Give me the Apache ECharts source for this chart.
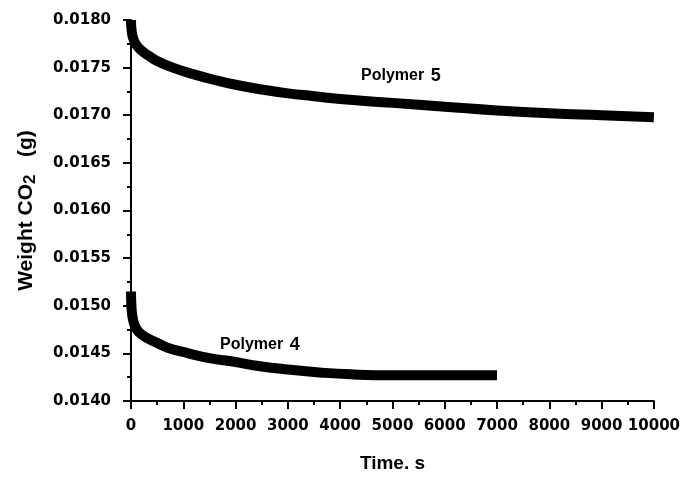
<!DOCTYPE html>
<html>
<head>
<meta charset="utf-8">
<script src="https://cdn.jsdelivr.net/npm/echarts@6/dist/echarts.min.js"></script>
<style>
html,body{margin:0;padding:0;background:#fff;}
#chart{width:683px;height:478px;}
</style>
</head>
<body>
<div id="chart"></div>
<script>
// Time (s) and weight CO2 (g)
const polymer5Time = [0, 10, 40, 100, 200, 350, 500, 800, 1200, 1600, 2000, 2500, 3000, 3500, 4000, 5000, 6000, 7000, 8000, 9000, 10000];
const polymer5Weight = [0.01800, 0.01790, 0.01781, 0.01774, 0.01768, 0.01762, 0.01757, 0.01750, 0.01743, 0.01737, 0.01732, 0.01727, 0.01723, 0.01720, 0.01717, 0.01713, 0.01709, 0.01705, 0.01702, 0.01700, 0.01698];
const polymer4Time = [0, 10, 40, 100, 200, 350, 500, 700, 1100, 1500, 2000, 2400, 3000, 3600, 4200, 5000, 6000, 7000];
const polymer4Weight = [0.01515, 0.01498, 0.01485, 0.01476, 0.01470, 0.01465, 0.01461, 0.01456, 0.01450, 0.01445, 0.01441, 0.01437, 0.01433, 0.01430, 0.01428, 0.01427, 0.01427, 0.01427];
const seriesNames = ['Polymer 5', 'Polymer 4'];
const xTicks = { min: 0, max: 10000, interval: 1000 };
const yTicks = { min: 0.0140, max: 0.0180, interval: 0.0005 };

const pairs = (xs, ys) => xs.map((x, i) => [x, ys[i]]);

const chart = echarts.init(document.getElementById('chart'), null, { renderer: 'canvas' });
const tickFont = { fontFamily: 'DejaVu Sans', fontWeight: 'bold', fontSize: 15, color: '#000' };
const axisCommon = {
  axisLine: { show: true, lineStyle: { color: '#000', width: 2 } },
  axisTick: { show: true, inside: false, length: 8, lineStyle: { color: '#000', width: 2 } },
  minorTick: { show: true, splitNumber: 2, length: 4, lineStyle: { color: '#000', width: 2 } },
  splitLine: { show: false },
  minorSplitLine: { show: false }
};
chart.setOption({
  animation: false,
  backgroundColor: '#fff',
  grid: { left: 129, right: 29, top: 20, bottom: 72, containLabel: false },
  xAxis: Object.assign({
    type: 'value', min: xTicks.min, max: xTicks.max, interval: xTicks.interval,
    name: 'Time. s', nameLocation: 'middle', nameGap: 53,
    nameTextStyle: { fontFamily: 'Liberation Sans', fontWeight: 'bold', fontSize: 19, color: '#000' },
    axisLabel: Object.assign({ margin: 18, showMinLabel: true, showMaxLabel: true, hideOverlap: false, formatter: v => String(v) }, tickFont)
  }, axisCommon),
  yAxis: Object.assign({
    type: 'value', min: yTicks.min, max: yTicks.max, interval: yTicks.interval,
    name: '{a|Weight CO}{b|2}{a|   (g)}', nameLocation: 'middle', nameGap: 92,
    nameTextStyle: {
      color: '#000',
      rich: {
        a: { fontFamily: 'Liberation Sans', fontWeight: 'bold', fontSize: 21, lineHeight: 23, verticalAlign: 'top', color: '#000' },
        b: { fontFamily: 'Liberation Sans', fontWeight: 'bold', fontSize: 17, lineHeight: 17, padding: [14, 0, 0, 0], verticalAlign: 'bottom', color: '#000' }
      }
    },
    axisLabel: Object.assign({ margin: 20, showMinLabel: true, showMaxLabel: true, formatter: v => v.toFixed(4) }, tickFont)
  }, axisCommon),
  series: [
    { name: seriesNames[0], type: 'line', data: pairs(polymer5Time, polymer5Weight), smooth: 0.5, showSymbol: false, clip: false,
      lineStyle: { color: '#000', width: 10, cap: 'butt', join: 'round' } },
    { name: seriesNames[1], type: 'line', data: pairs(polymer4Time, polymer4Weight), smooth: 0.5, showSymbol: false, clip: false,
      lineStyle: { color: '#000', width: 10, cap: 'butt', join: 'round' } }
  ],
  graphic: [
    { type: 'text', x: 361, y: 76, style: { text: '{a|Polymer}  {b|5}', verticalAlign: 'middle',
      rich: { a: { fontFamily: 'Liberation Sans', fontWeight: 'bold', fontSize: 16, fill: '#000' },
              b: { fontFamily: 'Liberation Sans', fontWeight: 'bold', fontSize: 18, fill: '#000' } } } },
    { type: 'text', x: 220, y: 345, style: { text: '{a|Polymer}  {b|4}', verticalAlign: 'middle',
      rich: { a: { fontFamily: 'Liberation Sans', fontWeight: 'bold', fontSize: 16, fill: '#000' },
              b: { fontFamily: 'Liberation Sans', fontWeight: 'bold', fontSize: 18, fill: '#000' } } } }
  ]
});
</script>
</body>
</html>
